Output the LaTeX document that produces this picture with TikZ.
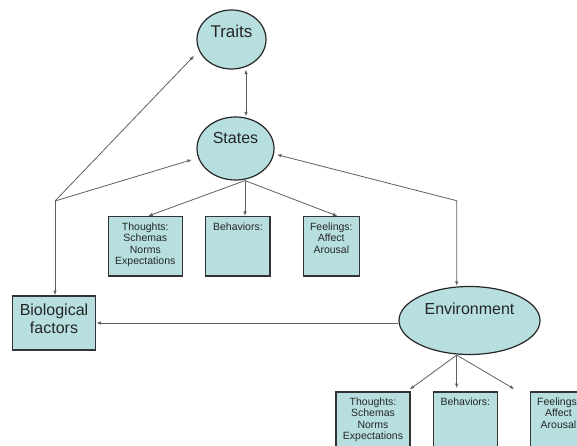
\documentclass[tikz,border=0pt]{standalone}
\usepackage{fontspec}
\setmainfont{Liberation Sans}
\usetikzlibrary{shapes.geometric,arrows.meta}
\definecolor{boxfill}{RGB}{183,223,224}
\definecolor{linkgray}{RGB}{95,95,95}

\begin{document}
\begin{tikzpicture}[x=1pt,y=-1pt]
        \tikzset{oval/.style={shape=ellipse, draw=black!85, line width=1.2pt,
            fill=boxfill, inner sep=0pt}}
        \tikzset{card/.style={shape=rectangle, draw=black!80, line width=1.4pt,
            fill=boxfill, inner sep=0pt}}
        \tikzset{bigtext/.style={font=\fontsize{16}{18}\selectfont, text=black!85}}
        \tikzset{smalltext/.style={font=\fontsize{10.5}{11.5}\selectfont,
            align=center, text=black!85, inner sep=0pt, anchor=north, yshift=-6.5pt}}
        \tikzset{link/.style={draw=linkgray, line width=0.8pt,
            -{Latex[length=4.5pt,width=3.5pt]}}}
        \tikzset{twoway/.style={link, {Latex[length=4.5pt,width=3.5pt]}-{Latex[length=4.5pt,width=3.5pt]}}}

        \useasboundingbox (0,0) rectangle (577,446);
        \clip (0,0) rectangle (577,446);

        % ellipses
        \node[oval, minimum width=69pt, minimum height=59pt,
          label={[bigtext, font=\fontsize{17}{19}\selectfont, yshift=8.5pt]center:Traits}]
          (traits) at (231.5,39.5) {};
        \node[oval, minimum width=77pt, minimum height=63pt,
          label={[bigtext, yshift=10.5pt]center:States}]
          (states) at (235.5,148.5) {};
        \node[oval, minimum width=141pt, minimum height=68pt,
          label={[bigtext, yshift=12pt]center:Environment}]
          (env) at (469.5,320.5) {};

        \node[card, minimum width=83.4pt, minimum height=54.3pt,
          label={[bigtext, align=center, yshift=4pt]center:Biological\\factors}]
          (bio) at (54,323) {};

        % upper row
        \node[card, minimum width=74pt, minimum height=59.3pt,
          label={[smalltext]north:Thoughts:\\Schemas\\Norms\\Expectations}]
          (thoughtsA) at (145.3,246.3) {};
        \node[card, minimum width=64.3pt, minimum height=59.3pt,
          label={[smalltext]north:Behaviors:}]
          (behavA) at (237.9,246.3) {};
        \node[card, minimum width=56pt, minimum height=59.3pt,
          label={[smalltext]north:Feelings:\\Affect\\Arousal}]
          (feelA) at (331.3,246.3) {};

        % lower row
        \node[card, minimum width=74pt, minimum height=59.3pt,
          label={[smalltext]north:Thoughts:\\Schemas\\Norms\\Expectations}]
          (thoughtsB) at (373,421.5) {};
        \node[card, minimum width=64pt, minimum height=59.3pt,
          label={[smalltext]north:Behaviors:}]
          (behavB) at (465.3,421.5) {};
        \node[card, minimum width=56pt, minimum height=59.3pt,
          label={[smalltext]north:Feelings:\\Affect\\Arousal}]
          (feelB) at (558.5,421.5) {};

        \coordinate (split) at (55,201);
        \coordinate (bend) at (456.7,200.7);
        \coordinate (statesbase) at ([xshift=9.5pt]states.south);
        \coordinate (envbase) at ([xshift=-12.8pt]env.south);
        \coordinate (loose) at (514.3,389);

        \draw[twoway] ([xshift=14.5pt]traits.south) -- ([xshift=10.5pt]states.north);
        \draw[link, shorten >=7pt] (split) -- (traits.199);
        \draw[link, shorten >=6.5pt] (split) -- (states.194);
        \draw[link] (split) -- (split |- bio.north);
        \draw[twoway, shorten <=3pt] (states.-8) -- (bend) -- (bend |- env.north);
        \draw[link] (env.west |- bio.east) -- (bio.east);

        \draw[link] (statesbase) -- ([xshift=3pt]thoughtsA.north);
        \draw[link] (statesbase) -- ([xshift=7.1pt]behavA.north);
        \draw[link] (statesbase) -- ([xshift=6pt]feelA.north);

        \draw[link, shorten >=3pt] (envbase) -- ([xshift=34.3pt]thoughtsB.north);
        \draw[link, shorten >=3pt] (envbase) -- ([xshift=-8.6pt]behavB.north);
        \draw[link] (envbase) -- (loose);
      \end{tikzpicture}
\end{document}
